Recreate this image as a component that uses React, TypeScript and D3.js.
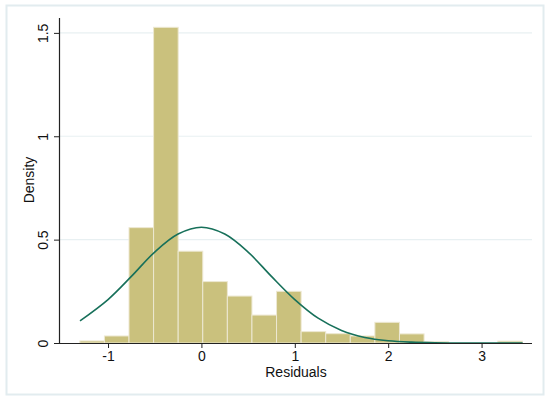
import { useEffect, useRef } from 'react';
import * as d3 from 'd3';

// histogram bins (left edge of first bin, common width) and densities
const binStart = -1.302;
const binWidth = 0.2633;
const densities = [
  0.01, 0.034, 0.558, 1.527, 0.444, 0.297, 0.227, 0.135, 0.25,
  0.055, 0.045, 0.034, 0.1, 0.044, 0.006, 0, 0, 0.009,
];

// normal density overlay
const curveX = [-1.3, -1.0, -0.75, -0.5, -0.25, 0, 0.25, 0.5, 0.75, 1.0, 1.25, 1.5, 1.75, 2.0, 2.25, 2.5, 2.75, 3.0, 3.44];
const curveY = [0.107, 0.21, 0.322, 0.44, 0.527, 0.56, 0.527, 0.44, 0.322, 0.21, 0.12, 0.061, 0.027, 0.011, 0.004, 0.001, 0, 0, 0];

const xTicks = [-1, 0, 1, 2, 3];
const yTicks = [0, 0.5, 1, 1.5];

interface Bin {
  x0: number;
  x1: number;
  density: number;
}

export default function App() {
  const svgRef = useRef<SVGSVGElement>(null);

  useEffect(() => {
    if (!svgRef.current) return;
    const svg = d3.select(svgRef.current);
    svg.selectAll('*').remove();

    const width = 550;
    const height = 401;
    const font = 'Liberation Sans, Arial, sans-serif';

    const x = d3.scaleLinear().domain([-1.525, 3.54]).range([59, 532]);
    const y = d3.scaleLinear().domain([0, 1.572]).range([343, 18]);

    svg.attr('width', width).attr('height', height);

    svg.append('rect').attr('width', width).attr('height', height).attr('fill', '#fff');
    svg.append('rect')
      .attr('x', 6.5).attr('y', 5.5)
      .attr('width', 537).attr('height', 389)
      .attr('fill', '#fff')
      .attr('stroke', '#e2ecef')
      .attr('stroke-width', 2);

    // gridlines
    svg.append('g')
      .selectAll('line')
      .data(yTicks.filter((d) => d > 0))
      .enter()
      .append('line')
      .attr('x1', 60).attr('x2', 532)
      .attr('y1', (d) => y(d)).attr('y2', (d) => y(d))
      .attr('stroke', '#e8f0f2')
      .attr('stroke-width', 1.2);

    // bars
    const bins: Bin[] = densities
      .map((d, i) => ({ x0: binStart + i * binWidth, x1: binStart + (i + 1) * binWidth, density: d }))
      .filter((b) => b.density > 0);

    svg.append('g')
      .selectAll('rect')
      .data(bins)
      .enter()
      .append('rect')
      .attr('x', (d) => x(d.x0))
      .attr('width', (d) => x(d.x1) - x(d.x0))
      .attr('y', (d) => y(d.density))
      .attr('height', (d) => y(0) - y(d.density))
      .attr('fill', '#cac17d')
      .attr('stroke', '#ede8d2')
      .attr('stroke-width', 1);

    // normal curve
    const pts = curveX.map((v, i) => [v, curveY[i]] as [number, number]);
    const line = d3.line<[number, number]>()
      .x((d) => x(d[0]))
      .y((d) => y(d[1]))
      .curve(d3.curveCatmullRom.alpha(0.5));
    svg.append('path')
      .attr('d', line(pts))
      .attr('fill', 'none')
      .attr('stroke', '#17705a')
      .attr('stroke-width', 1.6);

    // axes
    const xAxis = svg.append('g').attr('transform', `translate(0,${y(0)})`)
      .call(d3.axisBottom(x).tickValues(xTicks).tickSize(5).tickPadding(3).tickFormat((d) => `${d}`));
    xAxis.select('.domain').attr('d', 'M59,0.5H532').attr('stroke', '#222').attr('stroke-width', 1.2);
    xAxis.selectAll('.tick line').attr('stroke', '#222');
    xAxis.selectAll('text')
      .attr('fill', '#111')
      .attr('font-size', 14)
      .attr('font-family', font);

    const yAxis = svg.append('g').attr('transform', 'translate(59,0)')
      .call(d3.axisLeft(y).tickValues(yTicks).tickSize(5).tickPadding(0).tickFormat((d) => `${d}`));
    yAxis.select('.domain').attr('d', 'M0.5,18V343').attr('stroke', '#222').attr('stroke-width', 1.2);
    yAxis.selectAll('.tick line').attr('stroke', '#222');
    yAxis.selectAll('text')
      .attr('fill', '#111')
      .attr('font-size', 14)
      .attr('font-family', font)
      .attr('x', null)
      .attr('dy', null)
      .attr('text-anchor', 'middle')
      .attr('transform', 'translate(-11,0) rotate(-90)');

    // axis titles
    svg.append('text')
      .attr('x', 296).attr('y', 377)
      .attr('text-anchor', 'middle')
      .attr('font-size', 14)
      .attr('font-family', font)
      .attr('fill', '#111')
      .text('Residuals');

    svg.append('text')
      .attr('transform', 'translate(34,180) rotate(-90)')
      .attr('text-anchor', 'middle')
      .attr('font-size', 14)
      .attr('font-family', font)
      .attr('fill', '#111')
      .text('Density');
  }, []);

  return (
    <div style={{ position: 'fixed', left: 0, top: 0 }}>
      <svg ref={svgRef} style={{ display: 'block' }} />
    </div>
  );
}
